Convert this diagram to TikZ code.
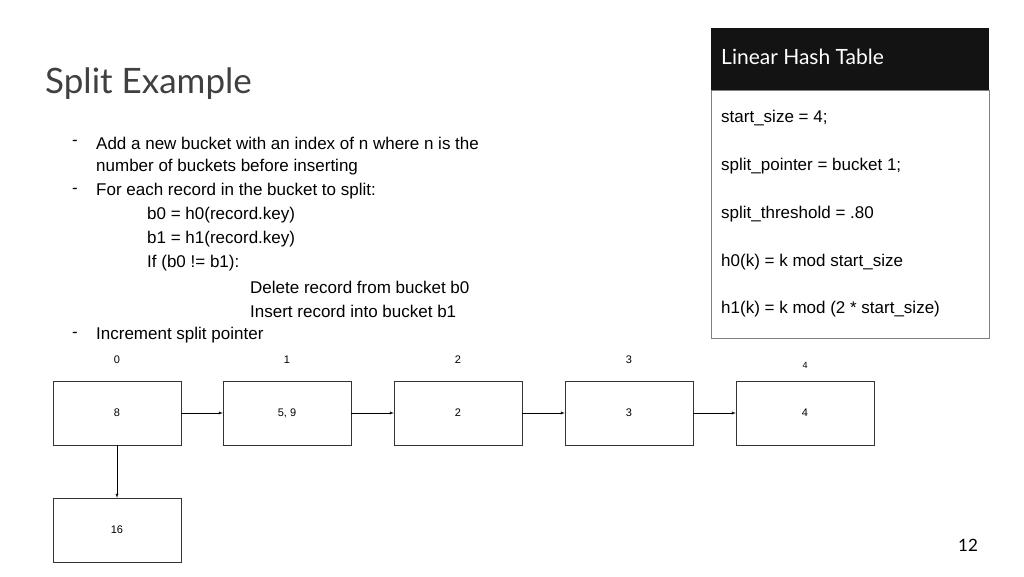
\documentclass[tikz,border=0pt]{standalone}
\usepackage{fontspec}
\setmainfont{Liberation Sans}
\newfontfamily\titlefont{Lato}
\usetikzlibrary{positioning}
\tikzset{bucket/.style={draw=black!80,thin,minimum height=64pt,font=\fontsize{11}{13}\selectfont},
  idx/.style={font=\fontsize{11}{13}\selectfont},
  txt/.style={anchor=west,inner sep=0pt,font=\fontsize{17}{20}\selectfont},
  link/.style={thin,->,>=latex}}
\begin{document}
\begin{tikzpicture}[x=1pt,y=-1pt]
\useasboundingbox (0,0) rectangle (1024,576);
\node[anchor=west,inner sep=0pt,font=\titlefont\fontsize{35}{40}\selectfont,text=black!75] (title) at (45,84) {Split Example};

% bullet text
\foreach \y/\x/\t in {143/96/{Add a new bucket with an index of n where n is the},
  167/96/{number of buckets before inserting},
  191/96/{For each record in the bucket to split:},
  215/147/{b0 = h0(record.key)},
  239/147/{b1 = h1(record.key)},
  263/147/{If (b0 != b1):},
  287/250/{Delete record from bucket b0},
  311/250/{Insert record into bucket b1},
  335/96/{Increment split pointer}}
  \node[txt] at (\x,\y) {\t};
\foreach \y in {143,191,335}
  \node[txt] at (72,\y) {-};

% hash table panel
\draw[black!50,fill=white] (711,90) rectangle (989,338);
\fill[black!85!gray] (711,28) rectangle (989,90);
\node[txt,text=white,font=\titlefont\fontsize{21}{24}\selectfont] (head) at (721,57) {Linear Hash Table};
\foreach \y/\t in {118/{start\_size = 4;},166/{split\_pointer = bucket 1;},214/{split\_threshold = .80},
  262/{h0(k) = k mod start\_size},309/{h1(k) = k mod (2 * start\_size)}}
  \node[txt] at (721,\y) {\t};

% buckets
\node[bucket,minimum width=128pt] (b0) at (117,413) {8};
\node[bucket,minimum width=128pt] (b1) at (287,413) {5, 9};
\node[bucket,minimum width=128pt] (b2) at (458,413) {2};
\node[bucket,minimum width=128pt] (b3) at (629,413) {3};
\node[bucket,minimum width=138pt] (b4) at (805,413) {4};
\node[bucket,minimum width=128pt] (ov) at (117,530) {16};
\node[idx] at (117,360) {0};
\node[idx] at (287,360) {1};
\node[idx] at (458,360) {2};
\node[idx] at (629,360) {3};
\node[idx,font=\fontsize{9}{11}\selectfont] at (805,365) {4};
\draw[link] (b0) -- (b1);
\draw[link] (b1) -- (b2);
\draw[link] (b2) -- (b3);
\draw[link] (b3) -- (b4);
\draw[link] (b0) -- (ov);

\node[font=\titlefont\fontsize{17}{20}\selectfont] (page) at (968,545) {12};
\end{tikzpicture}
\end{document}
